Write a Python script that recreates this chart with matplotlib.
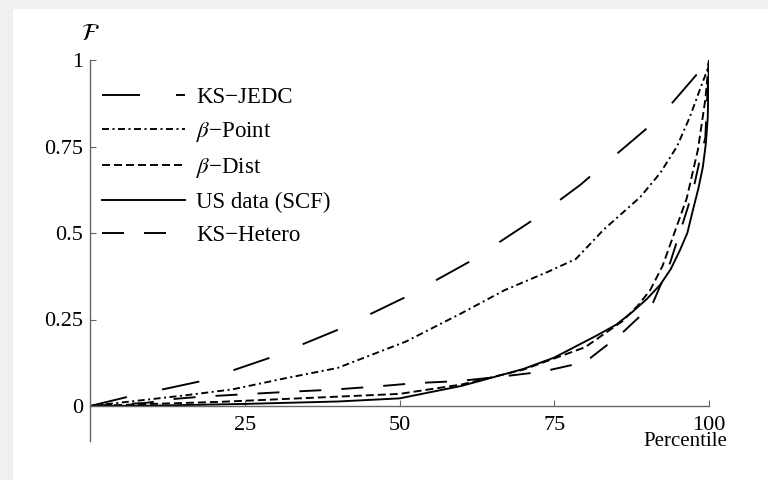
import matplotlib

matplotlib.use("Agg")
import matplotlib.pyplot as plt
from matplotlib.patches import Rectangle

plt.rcParams["font.family"] = ["Liberation Serif", "DejaVu Serif"]
plt.rcParams["mathtext.fontset"] = "stix"
plt.rcParams["lines.scale_dashes"] = False

# Lorenz curves: percentile -> share of wealth
ks_jedc_x = [0, 6, 18, 29, 40, 51, 61.5, 71.6, 79.2, 90, 94.2, 98.2, 100]
ks_jedc_y = [0, 0.026, 0.072, 0.139, 0.22, 0.315, 0.419, 0.538, 0.639, 0.803, 0.879, 0.962, 1.0]

beta_point_x = [0, 15, 23, 31.5, 40, 51, 60, 67, 74, 78.5, 83, 88.9, 92.1, 94.8, 96.9, 98.5,
                99.7, 100]
beta_point_y = [0, 0.03, 0.048, 0.08, 0.11, 0.186, 0.268, 0.335, 0.388, 0.425, 0.51, 0.604,
                0.673, 0.749, 0.835, 0.913, 0.97, 1.0]

beta_dist_x = [0, 10, 21, 40, 50, 60, 70, 80, 86, 88.5, 90.5, 92.5, 94.2, 96.4, 98.2, 99.4, 100]
beta_dist_y = [0, 0.006, 0.012, 0.027, 0.035, 0.062, 0.105, 0.17, 0.245, 0.29, 0.335, 0.405,
               0.49, 0.6, 0.74, 0.885, 1.0]

scf_x = [0, 10, 25, 40, 50, 60, 63.5, 70, 75, 82, 85, 87.5, 90, 92.1, 93.8, 95.3, 96.5, 97.4,
         98.3, 99, 99.5, 99.8, 100]
scf_y = [0, 0.001, 0.006, 0.013, 0.022, 0.058, 0.075, 0.107, 0.14, 0.205, 0.235, 0.27, 0.31,
         0.35, 0.395, 0.45, 0.5, 0.566, 0.63, 0.69, 0.76, 0.835, 1.0]

ks_het_x = [0, 9, 14, 18, 25, 32, 39, 46, 52.5, 59.5, 66, 73, 80, 85.6, 90.8, 93.7, 96.6, 97.7,
            98.5, 99.4, 100]
ks_het_y = [0, 0.009, 0.021, 0.027, 0.034, 0.041, 0.047, 0.056, 0.066, 0.072, 0.084, 0.099,
            0.127, 0.205, 0.292, 0.413, 0.575, 0.645, 0.71, 0.775, 1.0]

x_ticks = [25, 50, 75, 100]
y_ticks = [0, 0.25, 0.5, 0.75, 1]
y_tick_labels = ["0", "0.25", "0.5", "0.75", "1"]

W, H = 768, 480
fig = plt.figure(figsize=(W / 100, H / 100), dpi=100, facecolor="#f0f0f0")
fig.patches.append(Rectangle((13 / W, 0), 1 - 13 / W, 1 - 9 / H,
                             transform=fig.transFigure, facecolor="white",
                             edgecolor="none", zorder=-10))

# axes box: x 0..100 -> px 90..709, y -0.1..1 -> px 440.6..60
ax = fig.add_axes([90 / W, 1 - 440.6 / H, 619 / W, 380.6 / H])
ax.set_facecolor("none")

px = 1 / 1.389  # one pixel in points
lw = 1.9 * px
ax.plot(ks_jedc_x, ks_jedc_y, color="black", lw=lw, dashes=(38 * px, 36 * px), label="KS−JEDC")
ax.plot(beta_point_x, beta_point_y, color="black", lw=lw,
        dashes=(7 * px, 3.5 * px, 2 * px, 3.5 * px), label=r"$\beta$−Point")
ax.plot(beta_dist_x, beta_dist_y, color="black", lw=lw, dashes=(8 * px, 4 * px), label=r"$\beta$−Dist")
ax.plot(scf_x, scf_y, color="black", lw=lw, label="US data (SCF)")
ax.plot(ks_het_x, ks_het_y, color="black", lw=lw, dashes=(22 * px, 20 * px), label="KS−Hetero")

ax.set_xlim(0, 100)
ax.set_ylim(-0.1, 1.0)
for s in ["top", "right"]:
    ax.spines[s].set_visible(False)
ax.spines["bottom"].set_position(("data", 0))
for s in ["left", "bottom"]:
    ax.spines[s].set_color("#666666")
    ax.spines[s].set_linewidth(1.0)

ax.set_xticks(x_ticks)
ax.set_xticklabels([str(t) for t in x_ticks])
ax.set_yticks(y_ticks)
ax.set_yticklabels(y_tick_labels)
ax.tick_params(axis="both", direction="in", length=4.5, width=0.8, color="#666666",
               labelsize=16, labelcolor="black")
ax.tick_params(axis="x", pad=7)
ax.tick_params(axis="y", pad=5)

fig.text(90 / W, 1 - 34 / H, r"$\mathcal{F}$", fontsize=17, ha="center", va="center")
fig.text(727 / W, 1 - 441 / H, "Percentile", fontsize=15, ha="right", va="center")

leg = ax.legend(loc="upper left", bbox_to_anchor=(102 / W, 1 - 87 / H),
                bbox_transform=fig.transFigure, frameon=False, fontsize=16.5,
                handlelength=3.6, handletextpad=0.52, labelspacing=0.52,
                borderpad=0, borderaxespad=0)

fig.savefig("out.png", dpi=100, facecolor=fig.get_facecolor())
